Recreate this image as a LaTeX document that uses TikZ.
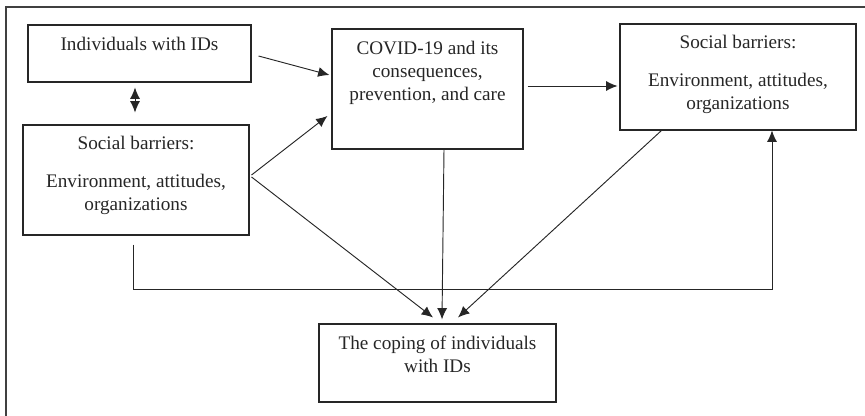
\documentclass[tikz,border=0pt]{standalone}
\usepackage{fontspec}
\setmainfont{Liberation Serif}
\usepackage{tikz}
\usetikzlibrary{arrows.meta,positioning,calc}

\begin{document}
\begin{tikzpicture}[
    x=0.75pt, y=-0.75pt,
    >={Latex[length=8.5pt,width=7.5pt]},
    font=\fontsize{14.4pt}{17.25pt}\selectfont,
    block/.style={
		rectangle,
		draw=black!85,
		line width=0.8pt,
		inner sep=0pt
	},
	txt/.style={
		align=center,
		inner sep=0pt,
		anchor=base,
		text=black!85
	},
	link/.style={
		draw=black!85,
		line width=0.7pt
	}
  ]
  \useasboundingbox (0,0) rectangle (865,416);
  % outer frame (cut at right and bottom)
  \draw [black!75, line width=1.5pt] (6,416) -- (6,7) -- (865,7);

    % We start by placing the blocks
  \node [block, minimum width=167.25pt, minimum height=42.75pt] (indiv) at (139.5,53.5) {};
  \node [block, minimum width=169.5pt, minimum height=82.5pt] (barL) at (136,180) {};
  \node [block, minimum width=143.25pt, minimum height=90pt] (covid) at (427.5,89) {};
  \node [block, minimum width=177pt, minimum height=79.5pt] (barR) at (738,77) {};
  \node [block, minimum width=177.75pt, minimum height=58.5pt] (cope) at (437.5,363) {};

  % texts (base = last line)
  \node [txt] (indivtxt) at ($(indiv.north)+(0,26)$) {Individuals with IDs};
  \node [txt] (barLtxt) at ($(barL.north)+(0,86)$)
 {Social barriers:\\[11.25pt]Environment, attitudes,\\organizations};
  \node [txt] (covidtxt) at ($(covid.north)+(0,72)$)
 {COVID-19 and its\\consequences,\\prevention, and care};
  \node [txt] (barRtxt) at ($(barR.north)+(0,86)$)
 {Social barriers:\\[11.25pt]Environment, attitudes,\\organizations};
  \node [txt] (copetxt) at ($(cope.north)+(0,49)$)
 {The coping of individuals\\with IDs};

  % arrows
 \draw [link,<->] ($(indiv.south)+(-4.5,5)$) -- ($(barL.north)+(-1,-12)$);
 \draw [link,->] ($(indiv.east)+(7,2.5)$) -- ($(covid.west)+(-2,-14)$);
 \draw [link,->] ($(barL.east)+(2,-5)$) -- ($(covid.west)+(-4,27)$);
 \draw [link,->] ($(covid.east)+(4,-3)$) -- ($(barR.west)+(-2,9)$);
 \draw [link,->] ($(barL.east)+(2,-3)$) -- ($(cope.north)+(-4.5,-6)$);
 \draw [link,->] ($(covid.south)+(16.5,0)$) -- ($(cope.north)+(4.5,-4)$);
 \draw [link,->] ($(barR.south west)+(42,0)$) -- ($(cope.north)+(20.5,-6)$);
 \draw [link,->] ($(barL.south)+(-3,9)$) -- ++(0,45) -| ($(barR.south)+(34,0)$);

\end{tikzpicture}
\end{document}
